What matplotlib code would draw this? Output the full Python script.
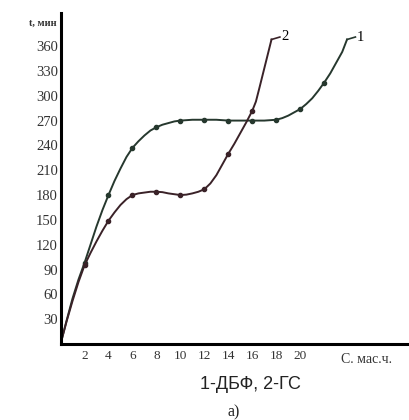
import numpy as np
import matplotlib.pyplot as plt

# curve 1 (ДБФ)
c1 = [0, 0.5, 1, 1.5, 2, 2.5, 3, 3.5, 4, 4.5, 5, 5.5, 6, 6.5, 7, 7.5, 8, 8.5, 9, 9.5, 10,
      11, 12, 13, 14, 15, 16, 17, 18, 18.5, 19, 19.5, 20, 20.5, 21, 21.5, 22, 22.5, 23, 23.5, 23.9]
t1 = [0, 28, 55, 78, 98, 120, 142, 162, 180, 197, 212, 226, 237, 245, 252, 258, 262, 265, 267, 269, 270,
      271, 271, 271, 270, 270, 270, 270, 271, 273, 276, 280, 284, 290, 297, 306, 316, 327, 340, 353, 368]
c1_pts = [2, 4, 6, 8, 10, 12, 14, 16, 18, 20, 22]
t1_pts = [98, 180, 237, 262, 270, 271, 270, 270, 271, 284, 316]

# curve 2 (ГС)
c2 = [0, 0.5, 1, 1.5, 2, 2.5, 3, 3.5, 4, 4.5, 5, 5.5, 6, 6.5, 7, 7.5, 8, 8.5, 9, 9.5, 10,
      10.5, 11, 11.5, 12, 12.5, 13, 13.5, 14, 14.5, 15, 15.5, 16, 16.3, 16.6, 17.1, 17.6]
t2 = [0, 27, 52, 75, 95, 110, 124, 137, 149, 159, 168, 175, 180, 182, 183, 184, 184, 183.5, 182, 181, 180,
      180.5, 182, 184, 187, 194, 204, 217, 230, 242, 255, 268, 282, 293, 310, 339, 368]
c2_pts = [2, 4, 6, 8, 10, 12, 14, 16]
t2_pts = [95, 149, 180, 184, 180, 187, 230, 282]

xticks = [2, 4, 6, 8, 10, 12, 14, 16, 18, 20]
yticks = [30, 60, 90, 120, 150, 180, 210, 240, 270, 300, 330, 360]

col1 = '#26382e'
col2 = '#3a2228'

fig = plt.figure(figsize=(4.09, 4.20), dpi=100)
ax = fig.add_axes([0.148, 0.181, 0.847, 0.788])

ax.plot(c1, t1, color=col1, lw=1.4)
ax.plot(c1_pts, t1_pts, 'o', color=col1, ms=3)
ax.plot(c2, t2, color=col2, lw=1.4)
ax.plot(c2_pts, t2_pts, 'o', color=col2, ms=3)

# little leaders to the curve numbers
ax.plot([17.6, 18.3], [368, 371], color=col2, lw=1.2)
ax.plot([23.9, 24.6], [368, 371], color=col1, lw=1.2)
ax.text(18.4, 372, '2', fontsize=10.5, family='Liberation Serif', va='center')
ax.text(24.7, 371, '1', fontsize=10.5, family='Liberation Serif', va='center')

ax.set_xlim(0, 28.9)
ax.set_ylim(0, 400)
ax.set_xticks(xticks)
ax.set_yticks(yticks)
ax.tick_params(axis='y', length=0, labelsize=10.5, pad=2, colors='#333333')
ax.tick_params(axis='x', length=0, labelsize=9.5, pad=4, colors='#333333')
for lab in ax.get_xticklabels() + ax.get_yticklabels():
    lab.set_family('Liberation Serif')

for s in ['top', 'right']:
    ax.spines[s].set_visible(False)
for s in ['left', 'bottom']:
    ax.spines[s].set_linewidth(2.2)

ax.text(25.5, -11, 'С. мас.ч.', fontsize=10, family='Liberation Serif',
        ha='center', va='top', color='#333333')
ax.text(-0.3, 388, 't, мин', fontsize=7.5, family='Liberation Serif',
        ha='right', va='center', fontweight='bold', color='#333333')

fig.text(0.612, 0.085, '1-ДБФ, 2-ГС', fontsize=13, family='Liberation Sans',
         ha='center', va='center', color='#222222')
fig.text(0.572, 0.018, 'а)', fontsize=11.5, family='Liberation Serif',
         ha='center', va='center', color='#222222')

fig.savefig('out.png', dpi=100)
